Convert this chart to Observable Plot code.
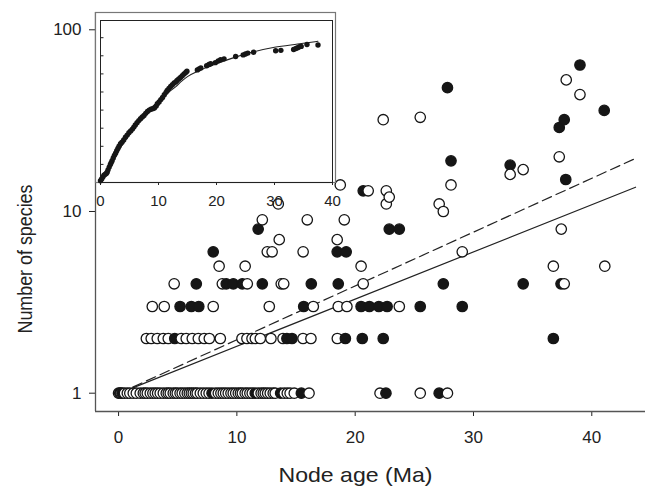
<!DOCTYPE html>
<html>
<head>
<meta charset="utf-8">
<script src="https://cdn.jsdelivr.net/npm/d3@7"></script>
<script src="https://cdn.jsdelivr.net/npm/@observablehq/plot@0.6"></script>
<style>
  body { margin: 0; background: #fff; }
  #wrap { position: relative; width: 661px; height: 487px; font-family: "Liberation Sans", Arial, sans-serif; }
  #inset { position: absolute; left: 95px; top: 12px; }
</style>
</head>
<body>
<div id="wrap"><div id="main"></div><div id="inset"></div></div>
<script>
// ---------- main panel data ----------
const filledAge = [
  0.1, 0.3, 7.9, 11.55, 13.7, 15.45, 22.6, 27.1,
  4.75, 14.23, 14.66, 19.17, 20.6, 22.37, 36.75,
  5.2, 6.15, 6.78, 15.65, 20.5, 21.2, 22.0, 22.7, 25.5, 29.05,
  6.57, 9.1, 9.7, 10.46, 12.15, 16.29, 18.57, 27.45, 34.2, 37.4,
  8.0, 18.48, 19.24,
  11.8, 22.88, 23.73,
  20.68, 37.8, 33.1, 28.1, 37.25, 37.67, 41.05, 27.8, 39.0
];
const filledSpecies = [
  1, 1, 1, 1, 1, 1, 1, 1,
  2, 2, 2, 2, 2, 2, 2,
  3, 3, 3, 3, 3, 3, 3, 3, 3, 3,
  4, 4, 4, 4, 4, 4, 4, 4, 4, 4,
  6, 6, 6,
  8, 8, 8,
  13, 15, 18, 19, 29, 32, 36, 48, 64
];
const openAge = [
  0.0, 0.2, 0.5, 0.74, 0.95, 1.24, 1.5, 1.83, 2.09, 2.25, 2.43, 2.68, 2.9, 3.1, 3.3, 3.52,
  3.78, 4.03, 4.2, 4.37, 4.62, 4.8, 4.96, 5.2, 5.38, 5.6, 5.81, 5.98, 6.15, 6.31, 6.5, 6.65,
  6.91, 7.16, 7.41, 7.65, 8.2, 8.43, 8.65, 8.85, 9.05, 9.27, 9.5, 9.69, 9.9, 10.12, 10.3,
  10.46, 10.7, 10.88, 11.1, 11.3, 11.81, 12.05, 12.23, 12.4, 12.6, 12.82, 13.07, 13.24,
  14.0, 14.26, 14.5, 14.85, 16.1, 22.1, 25.5, 27.8,
  2.35, 2.76, 3.27, 3.78, 4.2, 5.3, 5.72, 6.23, 6.74, 7.24, 7.67, 8.6, 10.43, 10.85, 11.28,
  11.56, 11.98, 12.88, 13.9, 15.59, 16.26, 18.49,
  2.85, 3.86, 8.0, 12.74, 16.46, 18.57, 19.3, 23.73,
  4.7, 8.77, 10.88, 13.75, 13.96, 20.68, 37.67,
  8.5, 10.7, 20.5, 36.75, 41.1,
  12.57, 12.98, 15.6, 29.05,
  13.58, 18.48,
  37.42,
  12.15, 15.95, 19.08,
  27.45,
  13.5, 22.63, 27.1,
  22.88,
  21.1, 22.63,
  18.74, 28.1,
  33.1, 34.2, 37.25, 22.37, 25.5, 39.0, 37.84
];
const openSpecies = [
  1, 1, 1, 1, 1, 1, 1, 1, 1, 1, 1, 1, 1, 1, 1, 1,
  1, 1, 1, 1, 1, 1, 1, 1, 1, 1, 1, 1, 1, 1, 1, 1,
  1, 1, 1, 1, 1, 1, 1, 1, 1, 1, 1, 1, 1, 1, 1,
  1, 1, 1, 1, 1, 1, 1, 1, 1, 1, 1, 1, 1,
  1, 1, 1, 1, 1, 1, 1, 1,
  2, 2, 2, 2, 2, 2, 2, 2, 2, 2, 2, 2, 2, 2, 2,
  2, 2, 2, 2, 2, 2, 2,
  3, 3, 3, 3, 3, 3, 3, 3,
  4, 4, 4, 4, 4, 4, 4,
  5, 5, 5, 5, 5,
  6, 6, 6, 6,
  7, 7,
  8,
  9, 9, 9,
  10,
  11, 11, 11,
  12,
  13, 13,
  14, 14,
  16, 17, 20, 32, 33, 44, 53
];
// regression lines (solid and dashed)
const lineAge = [1.2, 43.7];
const solidSpecies = [1.07, 13.6];
const dashedSpecies = [1.08, 19.6];

const xTicks = [0, 10, 20, 30, 40];
const yTicks = [1, 10, 100];
const xDomain = [-1.95, 44.54];
const yDomain = [0.793, 124.5];

// ---------- inset data ----------
const insetAge = [
  0, 0.2, 0.4, 0.6, 0.8, 1.0, 1.15, 1.3, 1.5, 1.7, 1.85, 2.0, 2.2, 2.4, 2.6, 2.8, 3.0, 3.2,
  3.45, 3.7, 4.0, 4.3, 4.6, 4.9, 5.2, 5.5, 5.75, 6.0, 6.3, 6.6, 6.9, 7.2, 7.5, 7.8, 8.1,
  8.4, 8.7, 9.0, 9.3, 9.6, 9.8, 10.1, 10.4, 10.7, 11.0, 11.3, 11.5, 11.8, 12.1, 12.4, 12.7,
  13.0, 13.2, 13.5, 13.8, 14.1, 14.4, 14.7, 14.9, 16.7, 17.0, 17.3, 18.3, 18.7, 19.0, 19.8,
  20.3, 20.7, 21.3, 23.3, 24.6, 25.0, 25.4, 26.4, 30.2, 31.1, 33.3, 33.7, 34.0, 34.3, 34.6,
  35.6, 37.5
];
const insetValue = [
  0.1, 0.2, 0.3, 0.4, 0.45, 0.5, 0.57, 0.7, 0.85, 1.0, 1.1, 1.2, 1.35, 1.5, 1.62, 1.75, 1.88, 2.0,
  2.14, 2.22, 2.35, 2.5, 2.62, 2.75, 2.85, 2.95, 3.06, 3.18, 3.3, 3.42, 3.52, 3.62, 3.7, 3.82, 3.92,
  4.0, 4.05, 4.08, 4.12, 4.22, 4.35, 4.45, 4.58, 4.7, 4.85, 4.98, 5.08, 5.2, 5.3, 5.4, 5.5,
  5.56, 5.64, 5.72, 5.8, 5.9, 6.0, 6.08, 6.15, 6.22, 6.28, 6.33, 6.45, 6.52, 6.56, 6.62,
  6.72, 6.78, 6.83, 6.96, 7.05, 7.1, 7.15, 7.2, 7.28, 7.3, 7.35, 7.4, 7.45, 7.5, 7.52,
  7.62, 7.6
];
const insetFitAge = [0, 1, 2, 3, 4, 5, 6, 7, 8, 9, 10, 11, 12, 13, 14, 15, 17, 20, 23, 26.4, 30, 34, 37.5];
const insetFitValue = [0, 0.6, 1.15, 1.7, 2.2, 2.65, 3.1, 3.5, 3.85, 4.2, 4.5, 4.8, 5.05, 5.3, 5.6, 5.85, 6.18, 6.56, 6.9, 7.22, 7.47, 7.65, 7.8];
const insetXTicks = [0, 10, 20, 30, 40];
const insetYTicks = [1, 2, 3, 4, 5, 6, 7, 8];

// ---------- build table ----------
const points = [];
filledAge.forEach((a, i) => points.push({age: a, species: filledSpecies[i], fill: "#161616"}));
openAge.forEach((a, i) => points.push({age: a, species: openSpecies[i], fill: "#ffffff"}));
points.sort((a, b) => a.age - b.age);

const font = '"Liberation Sans", Arial, sans-serif';

const main = Plot.plot({
  width: 661, height: 487,
  marginLeft: 95, marginRight: 16, marginTop: 12, marginBottom: 76,
  style: {fontFamily: font, fontSize: "17px", color: "#222", background: "transparent"},
  x: {domain: xDomain, ticks: xTicks, tickSize: 5, tickPadding: 14, label: null},
  y: {type: "log", domain: yDomain, ticks: yTicks, tickFormat: d => String(d), tickSize: 6, tickPadding: 8, label: null},
  color: {type: "identity"},
  marks: [
    Plot.ruleX([xDomain[0]], {stroke: "#555", strokeWidth: 1.3}),
    Plot.ruleY([yDomain[0]], {stroke: "#555", strokeWidth: 1.3}),
    Plot.line(lineAge, {x: lineAge, y: solidSpecies, stroke: "#222", strokeWidth: 1.2}),
    Plot.line(lineAge, {x: lineAge, y: dashedSpecies, stroke: "#222", strokeWidth: 1.2, strokeDasharray: "10,5"}),
    Plot.dot(points, {x: "age", y: "species", r: 5.2, fill: "fill", stroke: "#161616", strokeWidth: 1.3}),
    Plot.text(["Node age (Ma)"], {frameAnchor: "bottom", textAnchor: "middle", lineAnchor: "middle", dx: -15, dy: 64, fontSize: 21, fill: "#222"}),
    Plot.text(["Number of species"], {frameAnchor: "left", textAnchor: "middle", lineAnchor: "middle", dx: -70, dy: 47, rotate: -90, fontSize: 20.5, fill: "#222"})
  ]
});
document.getElementById("main").appendChild(main);
// the reference's lettering is stretched horizontally relative to the font
d3.select(main).selectAll("text")
  .filter(function () { return this.textContent === "Node age (Ma)"; })
  .attr("textLength", 154).attr("lengthAdjust", "spacingAndGlyphs");
d3.select(main).selectAll("text")
  .filter(function () { return this.textContent === "Number of species"; })
  .attr("textLength", 149).attr("lengthAdjust", "spacingAndGlyphs");

const inset = Plot.plot({
  width: 245, height: 200,
  marginLeft: 5, marginRight: 8, marginTop: 8, marginBottom: 30,
  style: {fontFamily: font, fontSize: "15px", color: "#222", background: "transparent", overflow: "visible"},
  x: {domain: [0, 40], ticks: insetXTicks, tickSize: 3, tickPadding: 10, label: null},
  y: {domain: [0, 8.95], ticks: [], label: null},
  marks: [
    Plot.frame({fill: "#fff", stroke: "#777", strokeWidth: 1.2, insetLeft: -5, insetTop: -8, insetRight: -3}),
    Plot.frame({stroke: "#222", strokeWidth: 1}),
    Plot.ruleY(insetYTicks, {x1: 0, x2: 0.6, stroke: "#222", strokeWidth: 1}),
    Plot.line(insetFitAge, {x: insetFitAge, y: insetFitValue, stroke: "#222", strokeWidth: 1.1, curve: "monotone-x"}),
    Plot.dot(insetAge, {x: insetAge, y: insetValue, r: 2.7, fill: "#161616", stroke: "none"})
  ]
});
document.getElementById("inset").appendChild(inset);
</script>
</body>
</html>
